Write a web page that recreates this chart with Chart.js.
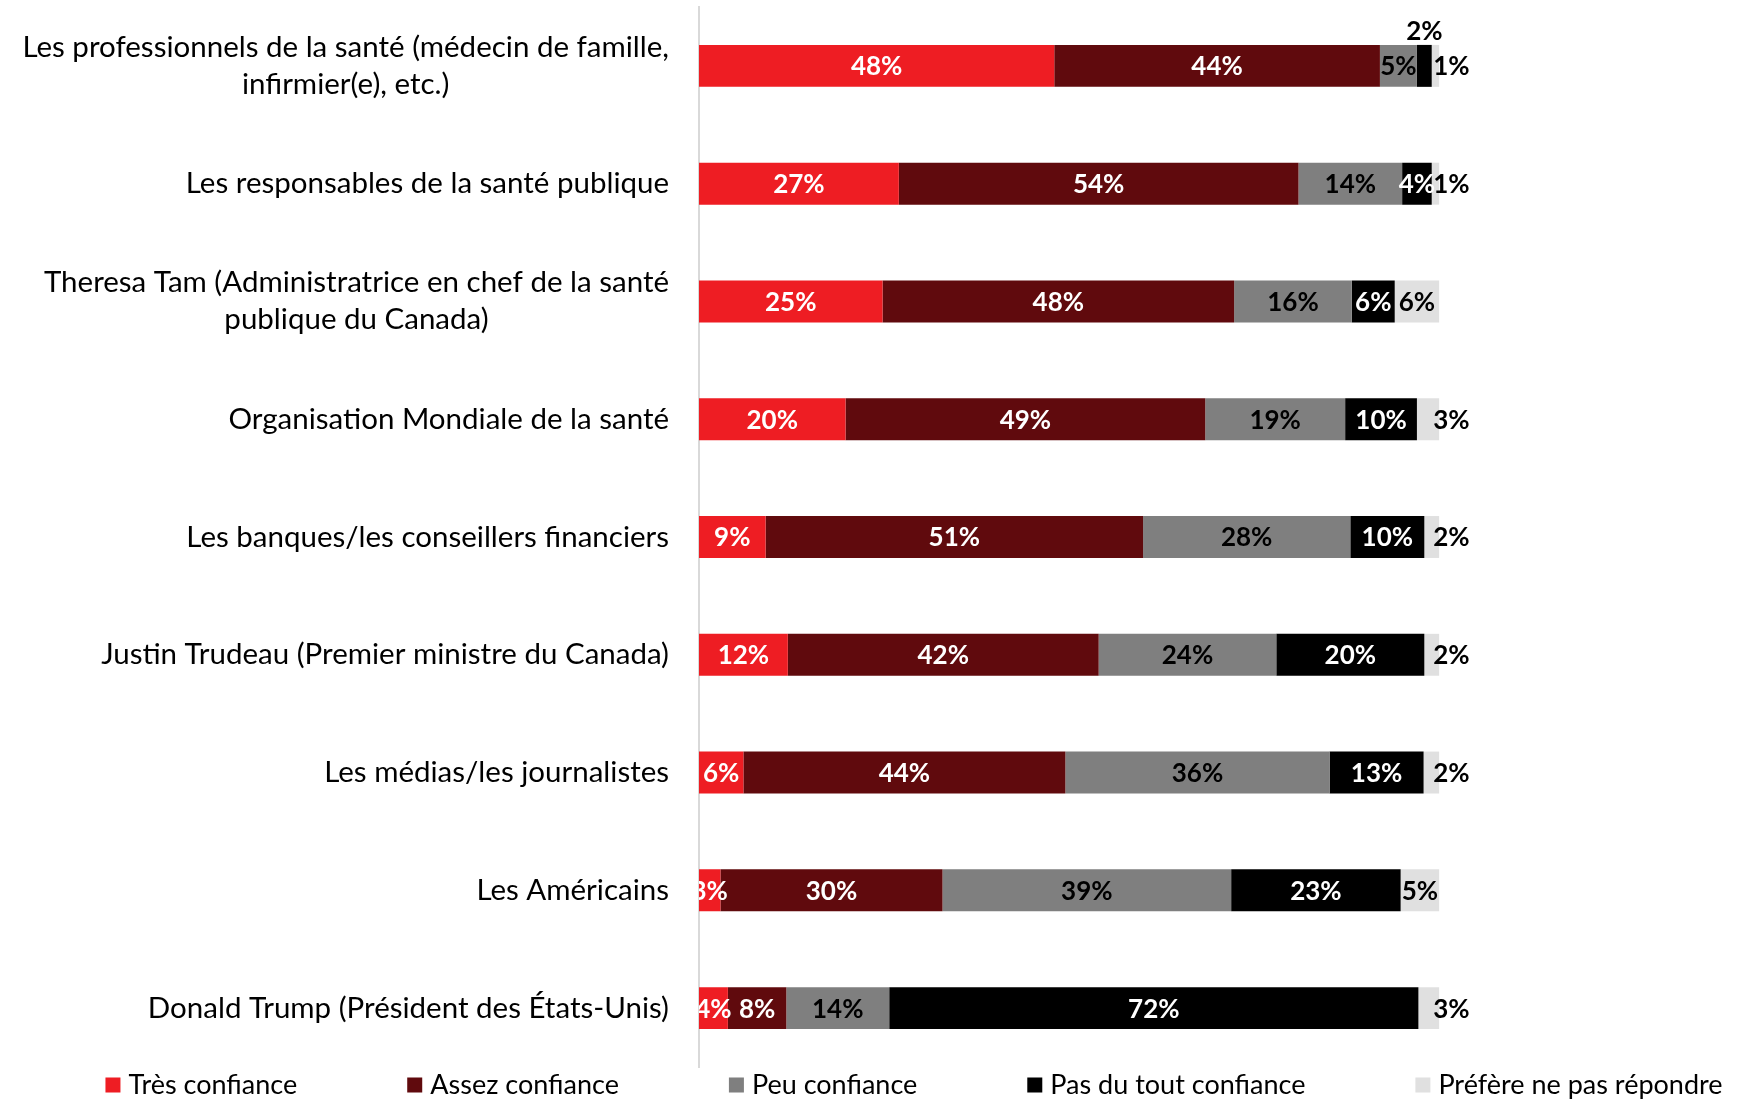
<!DOCTYPE html>
<html>
<head>
<meta charset="utf-8">
<script src="https://cdn.jsdelivr.net/npm/chart.js@4/dist/chart.umd.min.js"></script>
<style>
html,body{margin:0;padding:0;background:#fff;}
#wrap{width:1740px;height:1100px;}
</style>
</head>
<body>
<div id="wrap"><canvas id="c" width="1740" height="1100"></canvas></div>
<script>
const categories = [
  ["Les professionnels de la santé (médecin de famille,", "infirmier(e), etc.)"],
  "Les responsables de la santé publique",
  ["Theresa Tam (Administratrice en chef de la santé", "publique du Canada)"],
  "Organisation Mondiale de la santé",
  "Les banques/les conseillers financiers",
  "Justin Trudeau (Premier ministre du Canada)",
  "Les médias/les journalistes",
  "Les Américains",
  "Donald Trump (Président des États-Unis)"
];
const seriesNames = ["Très confiance", "Assez confiance", "Peu confiance", "Pas du tout confiance", "Préfère ne pas répondre"];
const tresConfiance     = [48, 27, 24.8, 19.8, 9, 12, 6.0, 2.9, 3.9];
const assezConfiance    = [44, 54, 47.5, 48.6, 51, 42, 43.5, 30.0, 7.9];
const peuConfiance      = [5, 14, 15.9, 18.9, 28, 24, 35.7, 39.0, 13.9];
const pasDuToutConfiance= [2, 4, 5.8, 9.7, 10, 20, 12.7, 22.9, 71.5];
const prefereNePas      = [1, 1, 6.0, 3.0, 2, 2, 2.1, 5.2, 2.8];

const colors = ["#EE1D23", "#600A0D", "#7F7F7F", "#000000", "#E0E0E0"];
const labelColors = ["#FFFFFF", "#FFFFFF", "#000000", "#FFFFFF", "#000000"];
const FONT = "Lato";

const allSeries = [tresConfiance, assezConfiance, peuConfiance, pasDuToutConfiance, prefereNePas];

// Category labels: right-aligned blocks whose lines are centred (as in Excel)
const categoryLabelPlugin = {
  id: 'categoryLabels',
  afterDraw(chart) {
    const ctx = chart.ctx;
    const scale = chart.scales.y;
    const right = chart.chartArea.left - 30;
    const lineH = 37;
    ctx.save();
    ctx.font = "29.5px " + FONT;
    ctx.fillStyle = '#000';
    ctx.textAlign = 'center';
    ctx.textBaseline = 'middle';
    chart.data.labels.forEach((lab, i) => {
      const lines = Array.isArray(lab) ? lab : [lab];
      const w = Math.max(...lines.map(l => ctx.measureText(l).width));
      const cx = right - w / 2;
      const y0 = scale.getPixelForTick(i) - (lines.length - 1) * lineH / 2;
      lines.forEach((l, k) => ctx.fillText(l, cx, y0 + k * lineH));
    });
    ctx.restore();
  }
};

const dataLabelPlugin = {
  id: 'dataLabels',
  afterDatasetsDraw(chart) {
    const ctx = chart.ctx;
    const area = chart.chartArea;
    ctx.save();
    ctx.beginPath();
    ctx.rect(area.left, 0, chart.width - area.left, chart.height);
    ctx.clip();
    ctx.font = "bold 26px " + FONT;
    ctx.textBaseline = 'middle';
    chart.data.datasets.forEach((ds, di) => {
      const meta = chart.getDatasetMeta(di);
      meta.data.forEach((bar, i) => {
        const v = ds.data[i];
        const txt = Math.round(v) + '%';
        const p = bar.getProps(['x', 'y', 'base', 'height'], true);
        let cx = (p.x + p.base) / 2;
        let cy = p.y + 1;
        ctx.fillStyle = labelColors[di];
        ctx.textAlign = 'center';
        if (di === 4 && v < 4) {
          ctx.fillStyle = '#000';
          ctx.textAlign = 'left';
          cx = p.x - 6;
        } else if (di === 3 && v < 3) {
          ctx.fillStyle = '#000';
          cy = p.y - p.height / 2 - 13;
        }
        ctx.fillText(txt, cx, cy);
      });
    });
    ctx.restore();
  }
};

const legendPlugin = {
  id: 'customLegend',
  afterDraw(chart) {
    const ctx = chart.ctx;
    ctx.save();
    ctx.font = "27px " + FONT;
    ctx.textBaseline = 'middle';
    ctx.textAlign = 'left';
    const box = 15, gapBox = 8, gapItem = 110;
    const widths = seriesNames.map(n => box + gapBox + ctx.measureText(n).width);
    const total = widths.reduce((a, b) => a + b, 0) + gapItem * (seriesNames.length - 1);
    let x = 914 - total / 2;
    const y = 1085;
    seriesNames.forEach((n, i) => {
      ctx.fillStyle = colors[i];
      ctx.fillRect(x, y - box / 2, box, box);
      ctx.fillStyle = '#000';
      ctx.fillText(n, x + box + gapBox, y);
      x += widths[i] + gapItem;
    });
    ctx.restore();
  }
};

new Chart(document.getElementById('c'), {
  type: 'bar',
  data: {
    labels: categories,
    datasets: allSeries.map((d, i) => ({
      label: seriesNames[i],
      data: d,
      backgroundColor: colors[i],
      borderWidth: 0,
      categoryPercentage: 1,
      barPercentage: 0.356
    }))
  },
  options: {
    indexAxis: 'y',
    responsive: false,
    animation: false,
    devicePixelRatio: 1,
    layout: { padding: { left: 0, right: 10, top: 7, bottom: 33 } },
    plugins: {
      legend: { display: false },
      tooltip: { enabled: false }
    },
    scales: {
      x: {
        stacked: true,
        min: 0,
        max: 139.3,
        display: false
      },
      y: {
        stacked: true,
        grid: { display: false, drawTicks: false },
        border: { display: true, color: '#D9D9D9', width: 2 },
        ticks: { display: false },
        afterFit(scale) {
          scale.width = 699;
          scale.paddingTop = 0;
          scale.paddingBottom = 0;
        }
      }
    }
  },
  plugins: [categoryLabelPlugin, dataLabelPlugin, legendPlugin]
});
</script>
</body>
</html>
